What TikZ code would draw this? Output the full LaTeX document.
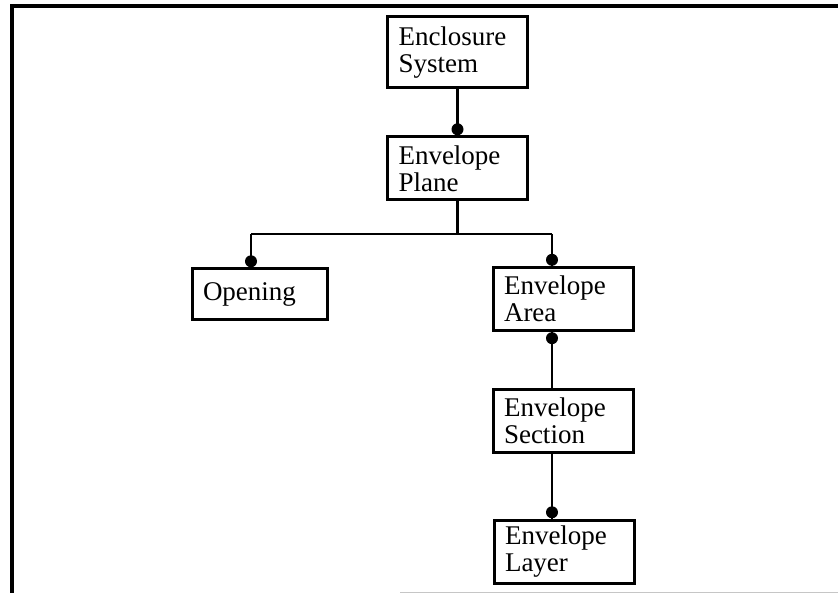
\documentclass[tikz,border=0pt]{standalone}
\usepackage{fontspec}
\setmainfont{Liberation Serif}
\usepackage{tikz}
\usetikzlibrary{calc,positioning}

\tikzset{
    entity/.style={draw, rectangle, line width=3pt, inner xsep=11pt, inner ysep=0pt,
        text width=118pt, minimum height=63pt, align=left,
        font=\fontsize{27pt}{27pt}\selectfont},
    link/.style={line width=2.4pt},
    dot/.style={circle, fill, inner sep=0pt, minimum size=12pt}
}

\begin{document}
\begin{tikzpicture}[x=1pt, y=-1pt]
    \useasboundingbox (0,0) rectangle (838,593);
    % frame
    \draw[line width=3.2pt] (12,593) -- (12,6) -- (838,6);
    \draw[gray!45, line width=1pt] (400,592) -- (838,592);

    \node[entity, minimum height=71pt] (sys) at (457.5,52.5) {Enclosure\\System};
    \node[entity] (plane) at (457.5,168.5) {Envelope\\Plane};
    \node[entity, text width=113pt, minimum height=51pt] (opening) at (259.5,294.5) {Opening};
    \node[entity] (area) at (563,299) {Envelope\\Area};
    \node[entity] (section) at (563,421) {Envelope\\Section};
    \node[entity] (layer) at (564,551.5) {Envelope\\Layer};

    \coordinate (busL) at (251,234);
    \coordinate (busR) at (552,234);

    \draw[link] (sys) -- (plane);
    \draw[link] (plane.south) -- (plane.south |- busL);
    \draw[link] (busL) -- (busR);
    \draw[link] (busL) -- (busL |- opening.north);
    \draw[link] (busR) -- (busR |- area.north);
    \draw[link] (area.south -| busR) -- (section.north -| busR);
    \draw[link] (section.south -| busR) -- (layer.north -| busR);

    \node[dot, anchor=south] (dplane) at (plane.north) {};
    \node[dot, anchor=south] (dopening) at (busL |- opening.north) {};
    \node[dot, anchor=south] (darea) at (busR |- area.north) {};
    \node[dot, anchor=north] (dsection) at (area.south -| busR) {};
    \node[dot, anchor=south] (dlayer) at (layer.north -| busR) {};
\end{tikzpicture}
\end{document}
